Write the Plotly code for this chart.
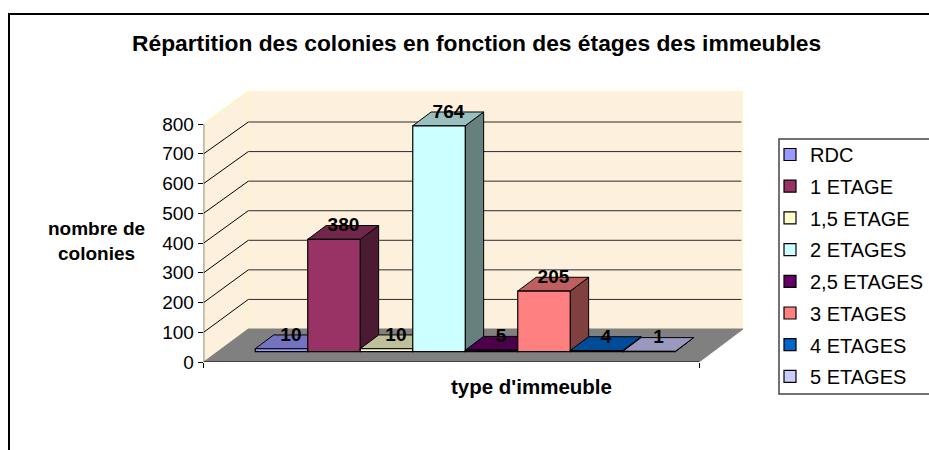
import plotly.graph_objects as go

TITLE = "Répartition des colonies en fonction des étages des immeubles"
YTITLE = "nombre de<br>colonies"
XTITLE = "type d'immeuble"
series = ["RDC", "1 ETAGE", "1,5 ETAGE", "2 ETAGES", "2,5 ETAGES", "3 ETAGES", "4 ETAGES", "5 ETAGES"]
values = [10, 380, 10, 764, 5, 205, 4, 1]
colors = ["#9999FF", "#993366", "#FFFFCC", "#CCFFFF", "#660066", "#FF8080", "#0066CC", "#CCCCFF"]
yticks = [0, 100, 200, 300, 400, 500, 600, 700, 800]

W, H = 929, 450
FONT = "Liberation Sans"
WALL = "#FDF1DD"
EDGE = "#FBF8C4"
FLOOR = "#808080"


def px(v):
    return v / W


def py(v):
    return 1 - v / H


def shade(c, f):
    r, g, b = int(c[1:3], 16), int(c[3:5], 16), int(c[5:7], 16)
    return f"rgb({r*f:.0f},{g*f:.0f},{b*f:.0f})"


# chart geometry
CAT_PX = 52.5
X0_PX = 281.5
LEFT, RIGHT = 203.7, 743.0
FRONT_Y, BACK_Y, TOP_Y, BASE_Y = 362.0, 329.0, 91.0, 351.7
K_FRONT, K_BAR = 0.2975, 0.2957

xf = lambda p: (p - X0_PX) / CAT_PX
x_left, x_back, x_front_r, x_right = xf(LEFT), xf(248.3), xf(699.0), xf(RIGHT)
floor_y = (FRONT_Y - BACK_Y) / K_FRONT
ratio = K_BAR / K_FRONT
top_y = (FRONT_Y - TOP_Y) / K_FRONT

fig = go.Figure()


def poly(xs, ys, fill, line="#000000", lw=1, yaxis="y"):
    fig.add_trace(go.Scatter(x=xs, y=ys, mode="lines", fill="toself" if fill else None, fillcolor=fill,
                             line=dict(color=line, width=lw), yaxis=yaxis, showlegend=False,
                             hoverinfo="skip"))


# walls and floor
poly([x_back, x_right, x_right, x_back, x_back], [floor_y, floor_y, top_y, top_y, floor_y], WALL, EDGE, 1.5)
poly([x_left, x_back, x_back, x_left, x_left], [0, floor_y, top_y, 800, 0], WALL, EDGE, 1.5)
poly([x_left, x_front_r, x_right, x_back, x_left], [0, 0, floor_y, floor_y, 0], FLOOR, FLOOR, 1)

# gridlines
for v in yticks[1:-1]:
    by = floor_y + v * ratio
    poly([x_left, x_back], [v, by], None, "#000000", 1)
    poly([x_back, x_right - 0.03], [by, by], None, "#2b2b2b", 1)

# axis lines
poly([x_left, x_left], [0, 800], None, "#000000", 1)
poly([x_left, x_front_r], [0, 0], None, "#000000", 1)

# depth faces
DX = 18.4 / CAT_PX
DY = 13.8 / K_BAR
for i, (v, c) in enumerate(zip(values, colors)):
    l, r = i - 0.5, i + 0.5
    poly([r, r + DX, r + DX, r, r], [0, DY, v + DY, v, 0], shade(c, 0.5), yaxis="y2")
    poly([l, r, r + DX, l + DX, l], [v, v, v + DY, v + DY, v], shade(c, 0.75), yaxis="y2")

# front faces
for i, (s, v, c) in enumerate(zip(series, values, colors)):
    fig.add_trace(go.Bar(x=[i], y=[v], width=1, name=s, legendgroup=s, yaxis="y3",
                         marker=dict(color=c, line=dict(color="#000000", width=1.2))))

# value labels
fig.add_trace(go.Scatter(x=[i + 0.18 for i in range(len(values))],
                         y=[v + 43 for v in values],
                         text=[str(v) for v in values], mode="text", yaxis="y3", showlegend=False,
                         textposition="middle center", hoverinfo="skip", cliponaxis=False,
                         textfont=dict(family=FONT, size=19, color="#000000", weight="bold")))

bar_range = [-(FRONT_Y - BASE_Y) / K_BAR, (BASE_Y - TOP_Y) / K_BAR]
hidden = dict(overlaying="y", visible=False, range=bar_range, fixedrange=True)

fig.update_layout(
    width=W, height=H, margin=dict(l=0, r=0, t=0, b=0, autoexpand=False),
    paper_bgcolor="#FFFFFF", plot_bgcolor="rgba(0,0,0,0)", barmode="overlay",
    font=dict(family=FONT, color="#000000"),
    xaxis=dict(domain=[px(LEFT), px(RIGHT)], range=[x_left, x_right], showgrid=False, zeroline=False,
               showline=False, tickmode="array", tickvals=[x_left, x_front_r], ticks="outside", ticklen=5,
               tickcolor="#000000", tickwidth=1, showticklabels=False, fixedrange=True),
    yaxis=dict(domain=[py(FRONT_Y), py(TOP_Y)], range=[0, top_y], showgrid=False, zeroline=False,
               showline=False, tickmode="array", tickvals=yticks, ticks="outside", ticklen=5,
               tickcolor="#000000", tickwidth=1, tickfont=dict(family=FONT, size=19), fixedrange=True),
    yaxis2=hidden, yaxis3=hidden,
    legend=dict(x=px(770), y=py(135), xanchor="left", yanchor="top", xref="paper", yref="paper",
                bgcolor="rgba(0,0,0,0)", borderwidth=0, font=dict(family=FONT, size=20),
                tracegroupgap=2.7, itemclick=False, itemdoubleclick=False),
    annotations=[
        dict(text=f"<b>{TITLE}</b>", x=px(477), y=py(43), xref="paper", yref="paper", showarrow=False,
             xanchor="center", yanchor="middle", font=dict(size=22.8)),
        dict(text=f"<b>{YTITLE}</b>", x=px(96), y=py(241.5), xref="paper", yref="paper", showarrow=False,
             xanchor="center", yanchor="middle", font=dict(size=19), align="center"),
        dict(text=f"<b>{XTITLE}</b>", x=px(531), y=py(386), xref="paper", yref="paper", showarrow=False,
             xanchor="center", yanchor="middle", font=dict(size=20.5)),
    ],
    shapes=[
        dict(type="rect", xref="paper", yref="paper", x0=px(9), y0=py(14), x1=1.1, y1=-0.1,
             line=dict(color="#000000", width=2), layer="above"),
        dict(type="rect", xref="paper", yref="paper", x0=px(779), y0=py(139), x1=1.1, y1=py(394),
             line=dict(color="#444444", width=1.5), layer="above"),
    ],
)

fig.write_html("out.html", config={"displayModeBar": False},
               post_script="document.body.style.margin='0';document.body.style.overflow='hidden';")
